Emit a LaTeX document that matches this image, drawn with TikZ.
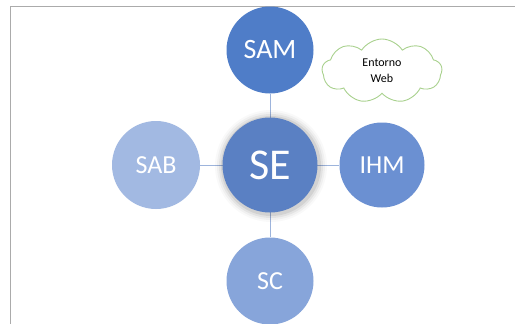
\documentclass[tikz,border=0pt]{standalone}
\usepackage{fontspec}
\setmainfont{Carlito}
\usetikzlibrary{shapes.symbols}
\definecolor{samc}{HTML}{4F7DC8}
\definecolor{sec}{HTML}{5A80C3}
\definecolor{ihmc}{HTML}{6B90D2}
\definecolor{sabc}{HTML}{A2B9E2}
\definecolor{scc}{HTML}{87A5DA}
\definecolor{linkc}{HTML}{9DB4DC}
\definecolor{cloudc}{HTML}{A9D18E}
\definecolor{framec}{HTML}{ABABAB}
\begin{document}
\begin{tikzpicture}[x=1pt,y=-1pt,
  bub/.style={circle,draw=none,inner sep=0pt,text=white,font=\fontsize{26}{26}\selectfont},
  link/.style={draw=linkc,line width=1pt}]
\useasboundingbox (0,0) rectangle (515,324);
\fill[white] (0,0) rectangle (515,324);
\draw[framec,line width=1.5pt] (10.5,330) -- (10.5,6.5) -- (520,6.5);
% nodes
\node[bub,fill=samc,minimum size=87pt,font=\fontsize{28}{28}\selectfont] (sam) at (270,50) {SAM};
\node[bub,fill=ihmc,minimum size=85pt] (ihm) at (382,165) {IHM};
\node[bub,fill=sabc,minimum size=88pt] (sab) at (156,165) {SAB};
\node[bub,fill=scc,minimum size=87pt] (sc) at (270,281) {SC};
% links
\draw[link] (270,165) -- (sam);
\draw[link] (270,165) -- (ihm);
\draw[link] (270,165) -- (sab);
\draw[link] (270,165) -- (sc);
% SE glow
\foreach \r/\o in {56/0.025,54/0.035,52/0.05,50/0.07}
  \fill[black,opacity=\o] (271,166) circle (\r pt);
\node[bub,fill=sec,minimum size=95pt,font=\fontsize{44}{44}\selectfont] (se) at (270,165) {SE};
% cloud
\node[cloud,cloud puffs=9,cloud puff arc=115,aspect=1.8,draw=cloudc,line width=0.9pt,fill=white,
  minimum width=120pt,minimum height=64pt,align=center,font=\fontsize{12}{16}\selectfont] (web) at (382,71) {Entorno\\Web};
\end{tikzpicture}
\end{document}
